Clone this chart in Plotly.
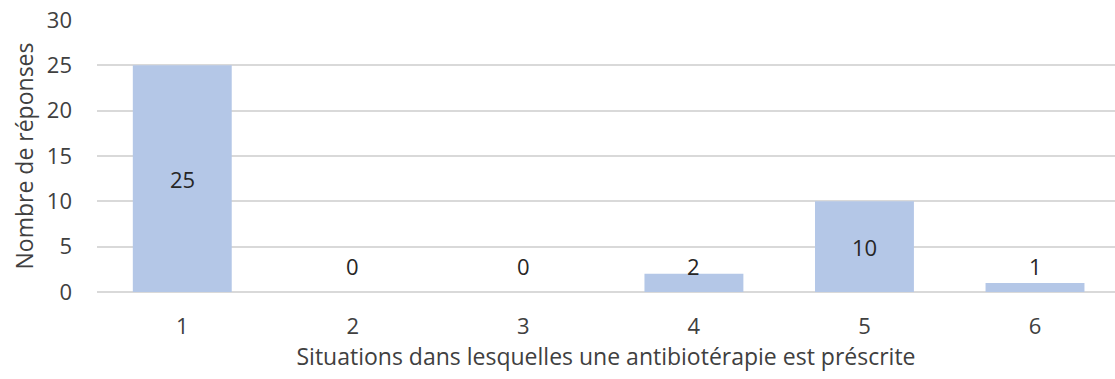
import plotly.graph_objects as go

categories = ["1", "2", "3", "4", "5", "6"]
responses = [25, 0, 0, 2, 10, 1]
y_ticks = [0, 5, 10, 15, 20, 25, 30]

FONT = "Open Sans"
TEXT = "#404040"
BAR = "#b4c7e7"

fig = go.Figure(
    go.Bar(
        x=categories,
        y=responses,
        marker=dict(color=BAR, line=dict(width=0)),
        width=0.58,
        hoverinfo="x+y",
    )
)

# value labels: centred in the bar, lifted to a minimum height for short bars
for i, v in enumerate(responses):
    fig.add_annotation(
        x=i, y=max(v / 2, 2.9), text=str(v), showarrow=False,
        font=dict(family=FONT, size=22, color="#262626"),
        xanchor="center", yanchor="middle",
    )

fig.update_layout(
    width=1115, height=379,
    margin=dict(l=97, r=0, t=20, b=87),
    plot_bgcolor="white", paper_bgcolor="white",
    showlegend=False,
    font=dict(family=FONT, size=22, color=TEXT),
    xaxis=dict(
        type="category",
        range=[-0.5, 5.469],
        showgrid=False, showline=False, zeroline=False,
        ticks="", ticklabelstandoff=19,
        tickfont=dict(family=FONT, size=22, color=TEXT),
        title=dict(text="Situations dans lesquelles une antibiotérapie est préscrite",
                   font=dict(family=FONT, size=23, color=TEXT), standoff=2),
    ),
    yaxis=dict(
        range=[0, 30],
        tickvals=y_ticks,
        showgrid=True, gridcolor="#d9d9d9", gridwidth=1.5,
        zeroline=True, zerolinecolor="#d9d9d9", zerolinewidth=1.5,
        showline=False, ticks="", ticklabelstandoff=24,
        tickfont=dict(family=FONT, size=22, color=TEXT),
        title=dict(text="Nombre de réponses",
                   font=dict(family=FONT, size=23, color=TEXT), standoff=6),
    ),
)

fig.write_html("out.html")
